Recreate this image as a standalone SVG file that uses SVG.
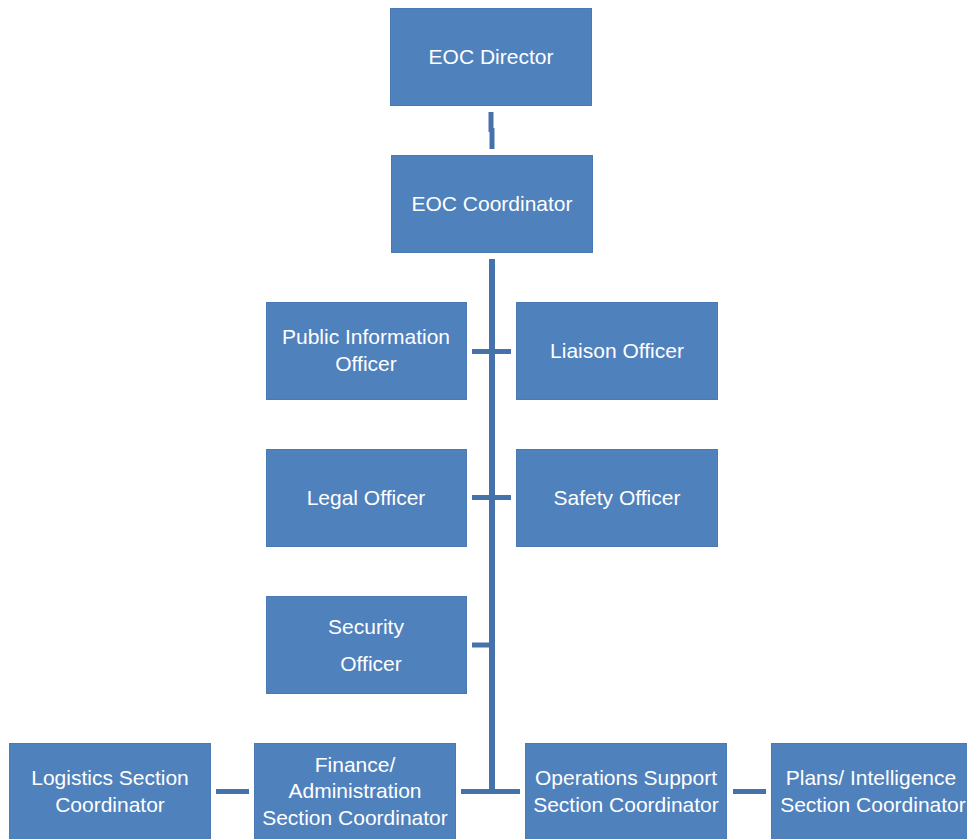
<svg xmlns="http://www.w3.org/2000/svg" width="967" height="839" viewBox="0 0 967 839">
<style>
.box{fill:#4f81bd;stroke:#4a7ab4;stroke-width:1}
.t{font-family:"Liberation Sans",Arial,sans-serif;font-size:21px;fill:#ffffff;text-anchor:middle}
.c{stroke:#4672ab;stroke-width:5;fill:none}
</style>
<rect width="967" height="839" fill="#ffffff"/>
<g id="connectors">
<path class="c" d="M491,112 V132"/>
<path class="c" d="M492,128 V149"/>
<path class="c" d="M492,259 V794" style="stroke-width:6"/>
<path class="c" d="M472,351.5 H511"/>
<path class="c" d="M472,497.5 H511"/>
<path class="c" d="M472,645 H492"/>
<path class="c" d="M461,791.5 H520"/>
<path class="c" d="M216,791.5 H249"/>
<path class="c" d="M733,791.5 H766"/>
</g>
<g id="director"><rect class="box" x="390.5" y="8.5" width="201" height="97"/><text class="t" x="491" y="64">EOC Director</text></g>
<g id="coordinator"><rect class="box" x="391.5" y="155.5" width="201" height="97"/><text class="t" x="492" y="211">EOC Coordinator</text></g>
<g id="pio"><rect class="box" x="266.5" y="302.5" width="200" height="97"/><text class="t" x="366" y="344">Public Information</text><text class="t" x="366" y="371">Officer</text></g>
<g id="liaison"><rect class="box" x="516.5" y="302.5" width="201" height="97"/><text class="t" x="617" y="358">Liaison Officer</text></g>
<g id="legal"><rect class="box" x="266.5" y="449.5" width="200" height="97"/><text class="t" x="366" y="505">Legal Officer</text></g>
<g id="safety"><rect class="box" x="516.5" y="449.5" width="201" height="97"/><text class="t" x="617" y="505">Safety Officer</text></g>
<g id="security"><rect class="box" x="266.5" y="596.5" width="200" height="97"/><text class="t" x="366" y="634">Security</text><text class="t" x="371" y="671">Officer</text></g>
<g id="logistics"><rect class="box" x="9.5" y="743.5" width="201" height="97"/><text class="t" x="110" y="785">Logistics Section</text><text class="t" x="110" y="812">Coordinator</text></g>
<g id="finance"><rect class="box" x="254.5" y="743.5" width="201" height="97"/><text class="t" x="355" y="772">Finance/</text><text class="t" x="355" y="798">Administration</text><text class="t" x="355" y="825">Section Coordinator</text></g>
<g id="operations"><rect class="box" x="525.5" y="743.5" width="201" height="97"/><text class="t" x="626" y="785">Operations Support</text><text class="t" x="626" y="812">Section Coordinator</text></g>
<g id="plans"><rect class="box" x="771.5" y="743.5" width="201" height="97"/><text class="t" x="871" y="785">Plans/ Intelligence</text><text class="t" x="873" y="812">Section Coordinator</text></g>
</svg>
